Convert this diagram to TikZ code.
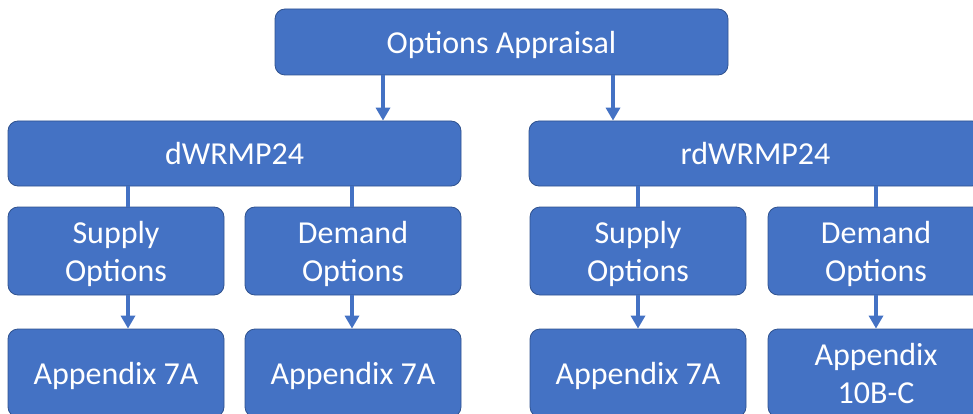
\documentclass[tikz,border=0pt]{standalone}
\usepackage{fontspec}
\setmainfont{Carlito}
\usetikzlibrary{arrows.meta}
\definecolor{boxfill}{RGB}{68,114,196}
\definecolor{boxline}{RGB}{47,82,143}
\newcommand{\boxlbl}[1]{\raisebox{-3.5pt}[\height][\depth]{\begin{tabular}{@{}c@{}}#1\end{tabular}}}
\begin{document}
\begin{tikzpicture}[x=1pt,y=-1pt,
  box/.style={rectangle,rounded corners=10pt,fill=boxfill,draw=boxline,line width=0.8pt,
    text=white,font=\fontsize{32}{38}\selectfont,inner sep=0pt},
  conn/.style={draw=boxfill,line width=4pt},
  arr/.style={conn,-{Triangle[width=14pt,length=13pt]}}]
\useasboundingbox (0,0) rectangle (973,414);
\clip (0,0) rectangle (973,414);
% top
\node[box,minimum width=453pt,minimum height=66pt] (top) at (501.5,42) {\boxlbl{Options Appraisal}};
% second level
\node[box,minimum width=453pt,minimum height=65pt] (dw) at (234.5,153.5) {\boxlbl{dWRMP24}};
\node[box,minimum width=453pt,minimum height=65pt] (rdw) at (755.5,153.5) {\boxlbl{rdWRMP24}};
% third level
\node[box,minimum width=216pt,minimum height=88pt] (s1) at (116,251) {\boxlbl{Supply\\Options}};
\node[box,minimum width=216pt,minimum height=88pt] (d1) at (353,251) {\boxlbl{Demand\\Options}};
\node[box,minimum width=216pt,minimum height=88pt] (s2) at (638,251) {\boxlbl{Supply\\Options}};
\node[box,minimum width=216pt,minimum height=88pt] (d2) at (876,251) {\boxlbl{Demand\\Options}};
% fourth level
\node[box,minimum width=216pt,minimum height=88pt] (a1) at (116,373) {\boxlbl{Appendix 7A}};
\node[box,minimum width=216pt,minimum height=88pt] (a2) at (353,373) {\boxlbl{Appendix 7A}};
\node[box,minimum width=216pt,minimum height=88pt] (a3) at (638,373) {\boxlbl{Appendix 7A}};
\node[box,minimum width=216pt,minimum height=88pt] (a4) at (876,373) {\boxlbl{Appendix\\10B-C}};
% x positions of connectors
\coordinate (xa) at (383,0);
\coordinate (xb) at (613,0);
\coordinate (x1) at (128,0);
\coordinate (x2) at (352,0);
\coordinate (x3) at (638,0);
\coordinate (x4) at (876,0);
% connectors
\draw[arr] (top.south -| xa) -- (dw.north -| xa);
\draw[arr] (top.south -| xb) -- (rdw.north -| xb);
\draw[conn] (dw.south -| x1) -- (s1.north -| x1);
\draw[conn] (dw.south -| x2) -- (d1.north -| x2);
\draw[conn] (rdw.south -| x3) -- (s2.north -| x3);
\draw[conn] (rdw.south -| x4) -- (d2.north -| x4);
\draw[arr] (s1.south -| x1) -- (a1.north -| x1);
\draw[arr] (d1.south -| x2) -- (a2.north -| x2);
\draw[arr] (s2.south -| x3) -- (a3.north -| x3);
\draw[arr] (d2.south -| x4) -- (a4.north -| x4);
\end{tikzpicture}
\end{document}
